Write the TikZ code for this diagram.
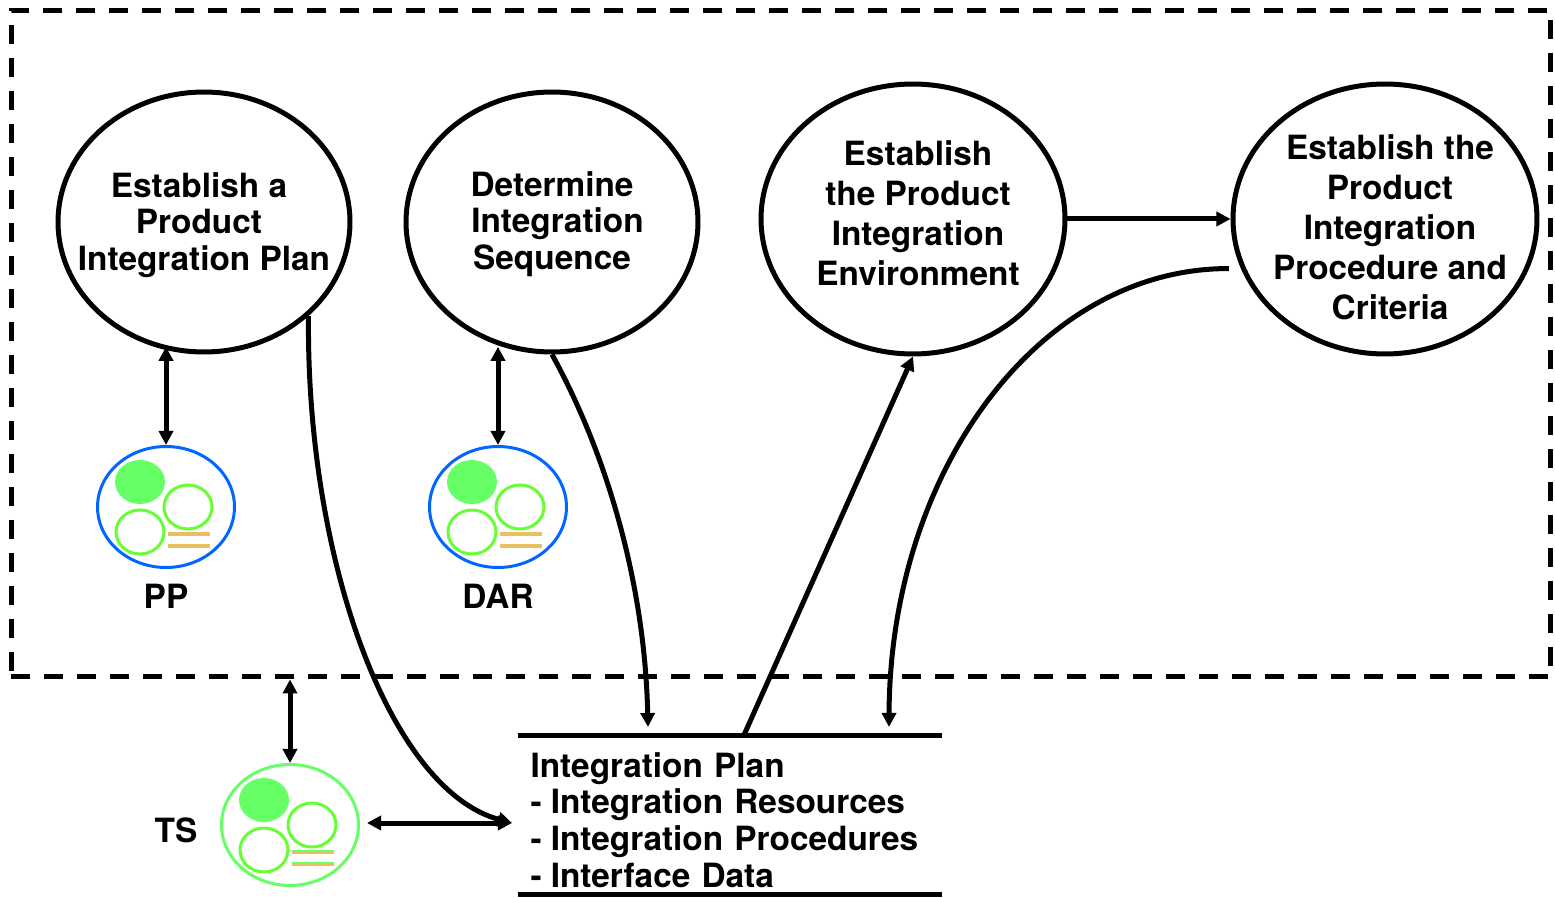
\documentclass[tikz,border=0pt]{standalone}
\usepackage{fontspec}
\setmainfont{TeX Gyre Heros}
\usetikzlibrary{arrows.meta, shapes.geometric}
\definecolor{ppblue}{HTML}{0066FF}
\definecolor{tsgreen}{HTML}{66FF66}
\definecolor{ringgreen}{HTML}{66FF33}
\definecolor{bandgold}{HTML}{E8C060}
\tikzset{
    flow/.style={line width=0.1cm},
    goal/.style={ellipse, draw, line width=0.1cm, inner sep=0pt},
    goalshort/.style={align=center, inner sep=0pt, font=\fontsize{19}{20.8}\selectfont\bfseries},
    goaltall/.style={align=center, inner sep=0pt, font=\fontsize{19}{22.8}\selectfont\bfseries},
    tag/.style={font=\fontsize{19}{22}\selectfont\bfseries, inner sep=0pt},
    planbox/.style={inner sep=0pt, outer sep=0pt, minimum width=8.5cm, minimum height=3.2cm},
    plantext/.style={align=left, inner sep=0pt, text width=7.94cm, font=\fontsize{19}{20.9}\selectfont\bfseries},
}
\newcommand{\dashitem}[1]{-\kern-0.04cm\ #1}
\begin{document}
\begin{tikzpicture}[>={Stealth[length=8pt, width=8pt, inset=0pt]}, x=0.02cm, y=-0.02cm]
    \useasboundingbox (0, 0) rectangle (1555, 898);
    \node[draw, dash pattern=on 0.38cm off 0.28cm, line width=0.1cm, minimum width=30.8cm, minimum height=13.34cm, inner sep=0pt] (pifocus) at (781, 343.5) {};
    \node[goal, minimum width=5.84cm, minimum height=5.2cm, label={[goalshort, xshift=-0.1cm, yshift=-0.06cm]center:{Establish a\\Product\\\hspace*{0.2cm}Integration Plan}}] (plan) at (204, 222) {};
    \node[goal, minimum width=5.84cm, minimum height=5.2cm, label={[goalshort, yshift=-0.04cm]center:{Determine\\\hspace*{0.22cm}Integration\\Sequence}}] (sequence) at (552, 222) {};
    \node[goal, minimum width=6.08cm, minimum height=5.4cm, label={[goaltall, xshift=0.1cm, yshift=0.12cm]center:{Establish\\the Product\\Integration\\Environment}}] (environment) at (913, 219) {};
    \node[goal, minimum width=6.08cm, minimum height=5.4cm, label={[goaltall, xshift=0.1cm, yshift=-0.16cm]center:{Establish the\\Product\\Integration\\Procedure and\\Criteria}}] (procedure) at (1385, 219) {};
    \node[planbox, label={[plantext, xshift=-0.02cm, yshift=-0.1cm]center:{Integration Plan\\\dashitem{Integration Resources}\\\dashitem{Integration Procedures}\\\dashitem{Interface Data}}}] (intplan) at (730, 815) {};
    \draw[flow] (intplan.north west) -- (intplan.north east);
    \draw[flow] (intplan.south west) -- (intplan.south east);
    % process area bubbles
    \foreach \name/\cx/\cy/\ringcol/\bandcol in {pp/166/507/ppblue/bandgold, dar/498/507/ppblue/bandgold, ts/290/825/tsgreen/tsgreen} {
        \node[ellipse, draw=\ringcol, line width=0.06cm, minimum width=2.74cm, minimum height=2.42cm, inner sep=0pt] (\name) at (\cx, \cy) {};
        \fill[tsgreen] ({\cx - 26}, {\cy - 25}) ellipse (0.5cm and 0.44cm);
        \draw[ringgreen, line width=0.06cm] ({\cx + 22}, \cy) ellipse (0.48cm and 0.44cm);
        \draw[ringgreen, line width=0.06cm] ({\cx - 26}, {\cy + 25}) ellipse (0.48cm and 0.44cm);
        \foreach \dy in {27, 39} {
            \draw[\bandcol, line width=0.07cm] ({\cx + 2}, {\cy + \dy}) -- ({\cx + 44}, {\cy + \dy});
            \draw[bandgold, line width=0.04cm] ({\cx + 2}, {\cy + \dy}) -- ({\cx + 44}, {\cy + \dy});
        };
    };
    \node[tag] (pplabel) at (166, 596) {PP};
    \node[tag] (darlabel) at (498, 596) {DAR};
    \node[tag] (tslabel) at (176, 830) {TS};
    \coordinate (planin) at (648, 727);
    \coordinate (planout) at (744, 735);
    \coordinate (planback) at (889, 727);
    \coordinate (planleft) at (512, 823);
    \coordinate (tsright) at (367, 823);
    \draw[flow, <->, shorten >=-0.06cm] (pp.north) -- (pp.north |- plan.253);
    \draw[flow, <->, shorten >=-0.06cm] (dar.north) -- (dar.north |- sequence.287);
    \draw[flow, <->] (ts.north) -- (ts.north |- pifocus.south);
    \draw[flow, <->] (tsright) -- (planleft);
    \draw[flow, ->] (plan.318) .. controls (306, 560) and (390, 790) .. (planleft);
    \draw[flow, ->] (sequence.south) .. controls (610, 460) and (645, 590) .. (planin);
    \draw[flow, ->] (planout) -- (environment.south);
    \draw[flow, ->] (environment.east) -- (procedure.west);
    \draw[flow, ->, shorten <=0.24cm] (procedure.199) .. controls (1040, 268) and (890, 470) .. (planback);
\end{tikzpicture}
\end{document}
